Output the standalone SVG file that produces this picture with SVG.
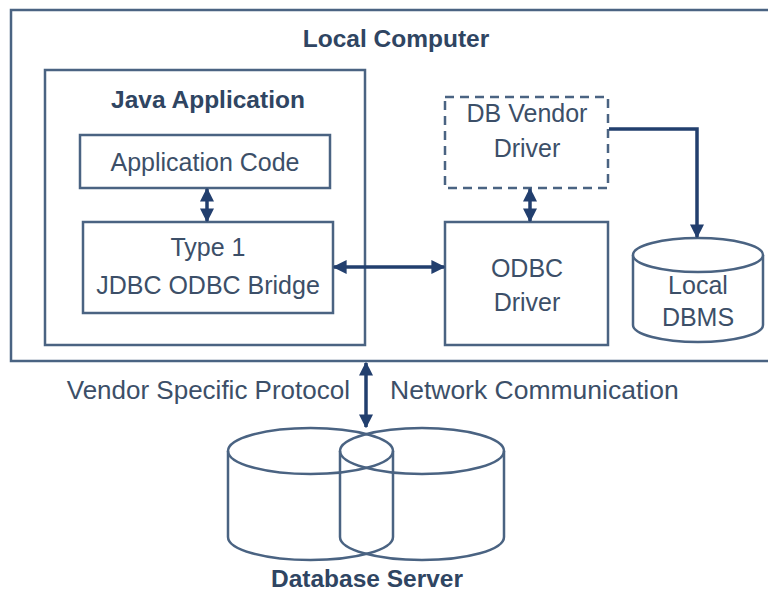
<svg xmlns="http://www.w3.org/2000/svg" width="768" height="592" viewBox="0 0 768 592">
  <style>
    .box { fill: #ffffff; stroke: #4a6382; stroke-width: 2.5; }
    .dash { fill: #ffffff; stroke: #4a6382; stroke-width: 2.5; stroke-dasharray: 9 6; }
    .cyl { fill: none; stroke: #4a6382; stroke-width: 2.5; }
    .lbl { font-family: "Liberation Sans", Arial, sans-serif; font-size: 25px; fill: #3c4f68; text-anchor: middle; }
    .ttl { font-family: "Liberation Sans", Arial, sans-serif; font-size: 24.5px; font-weight: bold; fill: #2f4562; text-anchor: middle; }
    .conn { fill: none; stroke: #223f6e; stroke-width: 3.5; }
  </style>
  <defs>
    <marker id="arr" viewBox="0 0 10 10" refX="9" refY="5" markerWidth="4" markerHeight="4" orient="auto-start-reverse" markerUnits="strokeWidth">
      <path d="M0,0 L10,5 L0,10 z" fill="#223f6e"/>
    </marker>
  </defs>
  <rect width="768" height="592" fill="#ffffff"/>

  <g id="local-computer">
    <rect class="box" x="11" y="10" width="770" height="351"/>
    <text class="ttl" x="396" y="47">Local Computer</text>
  </g>

  <g id="java-application">
    <rect class="box" x="45" y="70" width="320" height="275"/>
    <text class="ttl" x="208" y="108">Java Application</text>
  </g>

  <g id="application-code">
    <rect class="box" x="80" y="135" width="250" height="53"/>
    <text class="lbl" x="205" y="171">Application Code</text>
  </g>

  <g id="jdbc-odbc-bridge">
    <rect class="box" x="83" y="222" width="250" height="91"/>
    <text class="lbl" x="208" y="256">Type 1</text>
    <text class="lbl" x="208" y="294">JDBC ODBC Bridge</text>
  </g>

  <g id="db-vendor-driver">
    <rect class="dash" x="445" y="97" width="163" height="91"/>
    <text class="lbl" x="527" y="122">DB Vendor</text>
    <text class="lbl" x="527" y="157">Driver</text>
  </g>

  <g id="odbc-driver">
    <rect class="box" x="445" y="222" width="163" height="123"/>
    <text class="lbl" x="527" y="277">ODBC</text>
    <text class="lbl" x="527" y="311">Driver</text>
  </g>

  <g id="local-dbms">
    <path class="box" d="M633,255 V325 A65,17 0 0 0 763,325 V255"/>
    <ellipse class="box" cx="698" cy="255" rx="65" ry="17"/>
    <text class="lbl" x="698" y="294">Local</text>
    <text class="lbl" x="698" y="326">DBMS</text>
  </g>

  <g id="database-server">
    <path class="cyl" d="M228,451 V537 A82.5,23 0 0 0 393,537 V451"/>
    <path class="cyl" d="M340,451 V537 A82,23 0 0 0 504,537 V451"/>
    <ellipse class="cyl" cx="310.5" cy="451" rx="82.5" ry="23"/>
    <ellipse class="cyl" cx="422" cy="451" rx="82" ry="23"/>
    <text class="ttl" x="367" y="587">Database Server</text>
  </g>

  <g id="connectors">
    <line class="conn" x1="207" y1="189" x2="207" y2="221" marker-start="url(#arr)" marker-end="url(#arr)"/>
    <line class="conn" x1="530" y1="189" x2="530" y2="221" marker-start="url(#arr)" marker-end="url(#arr)"/>
    <line class="conn" x1="334" y1="267" x2="444" y2="267" marker-start="url(#arr)" marker-end="url(#arr)"/>
    <polyline class="conn" points="609,129 697,129 697,237" marker-end="url(#arr)"/>
    <line class="conn" x1="366" y1="363" x2="366" y2="427" marker-start="url(#arr)" marker-end="url(#arr)"/>
  </g>

  <g id="link-labels">
    <text class="lbl" x="350" y="399" style="text-anchor:end;font-size:26px">Vendor Specific Protocol</text>
    <text class="lbl" x="390" y="399" style="text-anchor:start;font-size:26.5px">Network Communication</text>
  </g>
</svg>
